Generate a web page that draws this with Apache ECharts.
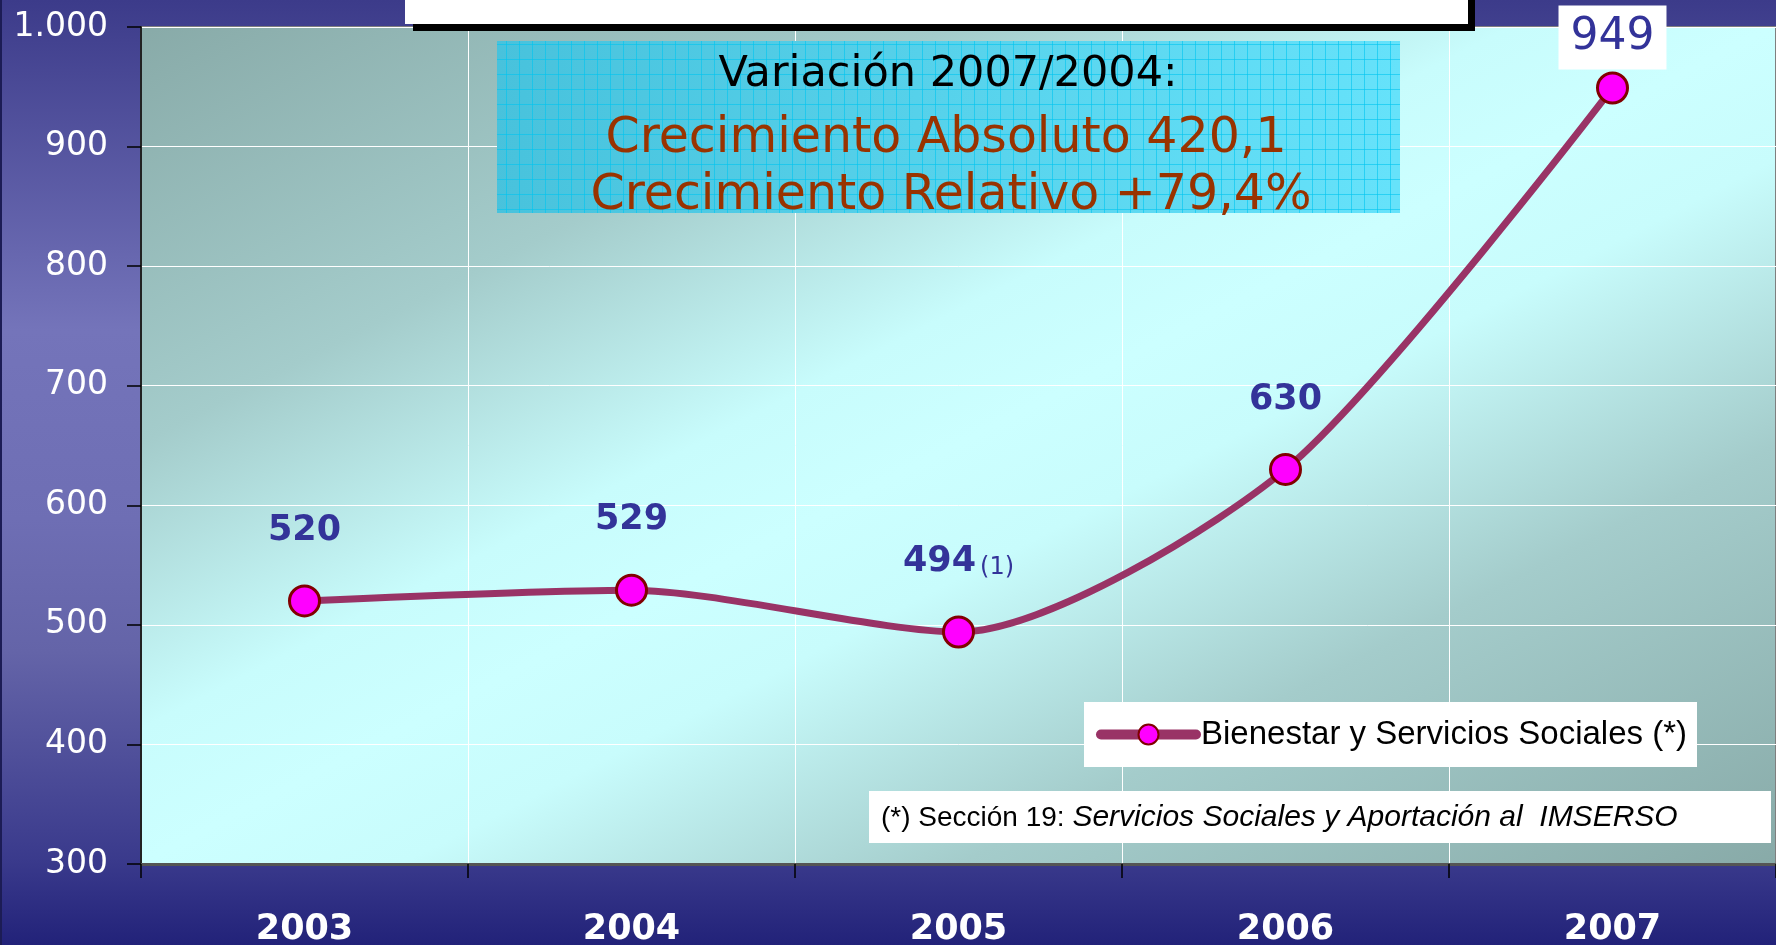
<!DOCTYPE html>
<html>
<head>
<meta charset="utf-8">
<title>Bienestar y Servicios Sociales</title>
<script src="https://cdn.jsdelivr.net/npm/echarts@6/dist/echarts.min.js"></script>
<style>
html, body { margin: 0; padding: 0; }
#main {
    width: 1776px; height: 945px;
    background: linear-gradient(to bottom, #3c3b8a 0%, #7474ba 35%, #6e6eb4 55%, #6464a8 69%, #3a3a8c 91%, #222279 100%);
}
</style>
</head>
<body>
<div id="main"></div>
<script>
// datos
var years = ['2003', '2004', '2005', '2006', '2007'];
var importe = [520, 529, 494, 630, 949];
var etiquetas = ['520', '529', '494', '630', '949'];
var notas = ['', '', '(1)', '', ''];
var serieNombre = 'Bienestar y Servicios Sociales (*)';
var cuadroTextos = ['Variación 2007/2004:', 'Crecimiento Absoluto 420,1', 'Crecimiento Relativo +79,4%'];
var piePagina = ['(*) Sección 19: ', 'Servicios Sociales y Aportación al  IMSERSO'];

// trama de cuadricula del recuadro azul
var cv = document.createElement('canvas');
cv.width = 13; cv.height = 15;
var cx = cv.getContext('2d');
cx.strokeStyle = 'rgba(0,196,240,0.6)';
cx.lineWidth = 1;
cx.beginPath();
cx.moveTo(12.5, 0); cx.lineTo(12.5, 15);
cx.moveTo(0, 14.5); cx.lineTo(13, 14.5);
cx.stroke();

var serieData = [];
for (var i = 0; i < importe.length; i++) {
    var item = { value: importe[i] };
    if (notas[i]) {
        item.label = { formatter: '{a|' + etiquetas[i] + '}{b|' + notas[i] + '}' };
    }
    if (i == importe.length - 1) {
        item.label = {
            fontSize: 44, fontWeight: 'normal', backgroundColor: '#fff', padding: [9, 12, 9, 12],
            lineHeight: 46, distance: 2
        };
    }
    serieData.push(item);
}

var myChart = echarts.init(document.getElementById('main'));
var option = {
    backgroundColor: 'transparent',
    animation: false,
    grid: {
        left: 141, right: 0, top: 27, bottom: 81,
        outerBoundsMode: 'none',
        show: true,
        borderColor: '#7f7f7f',
        borderWidth: 2,
        backgroundColor: {
            type: 'linear', global: true,
            x: 617, y: -220, x2: 1298, y2: 1109,
            colorStops: [
                { offset: 0, color: '#88aaa8' },
                { offset: 0.25, color: '#a4cccb' },
                { offset: 0.42, color: '#c8fcfc' },
                { offset: 0.5, color: '#ccffff' },
                { offset: 0.58, color: '#c8fcfc' },
                { offset: 0.75, color: '#a4cccb' },
                { offset: 1, color: '#88aaa8' }
            ]
        }
    },
    legend: {
        left: 1084, top: 702,
        backgroundColor: '#fff',
        padding: [16, 10, 16, 12],
        itemWidth: 95, itemHeight: 25,
        lineStyle: { width: 10, cap: 'round' },
        textStyle: { fontFamily: 'Liberation Sans', fontSize: 33, color: '#000' },
        data: [serieNombre]
    },
    xAxis: {
        type: 'category',
        data: years,
        boundaryGap: true,
        axisLine: { lineStyle: { color: '#555', width: 3 } },
        axisTick: { show: true, length: 14, lineStyle: { color: '#000', width: 1.5 } },
        axisLabel: {
            color: '#fff', fontFamily: 'DejaVu Sans', fontWeight: 'bold',
            fontSize: 35, margin: 48
        },
        splitLine: { show: true, lineStyle: { color: '#fff', width: 1 } }
    },
    yAxis: {
        type: 'value',
        min: 300, max: 1000, interval: 100,
        axisLine: { show: true, lineStyle: { color: '#222', width: 2 } },
        axisTick: { show: true, length: 14, lineStyle: { color: '#000', width: 1.5 } },
        axisLabel: {
            color: '#fff', fontFamily: 'DejaVu Sans', fontSize: 33, margin: 33,
            formatter: function (v) { return v == 1000 ? '1.000' : String(v); }
        },
        splitLine: { show: true, lineStyle: { color: '#fff', width: 1 } }
    },
    series: [{
        name: serieNombre,
        type: 'line',
        data: serieData,
        smooth: 0.25,
        symbol: 'circle',
        symbolSize: 30,
        z: 5,
        lineStyle: { color: '#993366', width: 7 },
        itemStyle: { color: '#ff00ff', borderColor: '#800000', borderWidth: 3 },
        label: {
            show: true,
            position: 'top',
            distance: 36,
            color: '#333399',
            fontFamily: 'DejaVu Sans',
            fontWeight: 'bold',
            fontSize: 35,
            rich: {
                a: { fontFamily: 'DejaVu Sans', fontWeight: 'bold', fontSize: 35, color: '#333399' },
                b: { fontFamily: 'DejaVu Sans', fontWeight: 'normal', fontSize: 24, color: '#333399', padding: [12, 0, 0, 4] }
            }
        }
    }],
    graphic: [
        { type: 'rect', z: 50, shape: { x: 0, y: 0, width: 2, height: 945 }, style: { fill: '#1c1c55' } },
        // recuadro del titulo (cortado)
        { type: 'rect', z: 50, shape: { x: 413, y: -10, width: 1062, height: 41 }, style: { fill: '#000' } },
        { type: 'rect', z: 51, shape: { x: 405, y: -10, width: 1063, height: 34 }, style: { fill: '#fff' } },
        // recuadro azul
        {
            type: 'rect', z: 50, shape: { x: 497, y: 41, width: 903, height: 172 },
            style: {
                fill: {
                    type: 'linear', x: 0, y: 0, x2: 1, y2: 0.3,
                    colorStops: [{ offset: 0, color: '#48c2dc' }, { offset: 1, color: '#66e2fa' }]
                }
            }
        },
        { type: 'rect', z: 51, shape: { x: 497, y: 41, width: 903, height: 172 }, style: { fill: { image: cv, repeat: 'repeat' } } },
        {
            type: 'text', z: 52, x: 948, y: 75,
            style: { text: cuadroTextos[0], fill: '#000', font: '43px "DejaVu Sans"', align: 'center', verticalAlign: 'middle' }
        },
        {
            type: 'text', z: 52, x: 946, y: 139,
            style: { text: cuadroTextos[1], fill: '#993300', font: '49px "DejaVu Sans"', align: 'center', verticalAlign: 'middle' }
        },
        {
            type: 'text', z: 52, x: 951, y: 196,
            style: { text: cuadroTextos[2], fill: '#993300', font: '49px "DejaVu Sans"', align: 'center', verticalAlign: 'middle' }
        },
        // nota al pie
        { type: 'rect', z: 50, shape: { x: 869, y: 791, width: 902, height: 52 }, style: { fill: '#fff' } },
        {
            type: 'text', z: 52, x: 881, y: 818,
            style: {
                text: '{n|' + piePagina[0] + '}{i|' + piePagina[1] + '}',
                verticalAlign: 'middle',
                rich: {
                    n: { fontFamily: 'Liberation Sans', fontSize: 28, fill: '#000' },
                    i: { fontFamily: 'Liberation Sans', fontSize: 30, fontStyle: 'italic', fill: '#000' }
                }
            }
        }
    ]
};
myChart.setOption(option);
</script>
</body>
</html>
